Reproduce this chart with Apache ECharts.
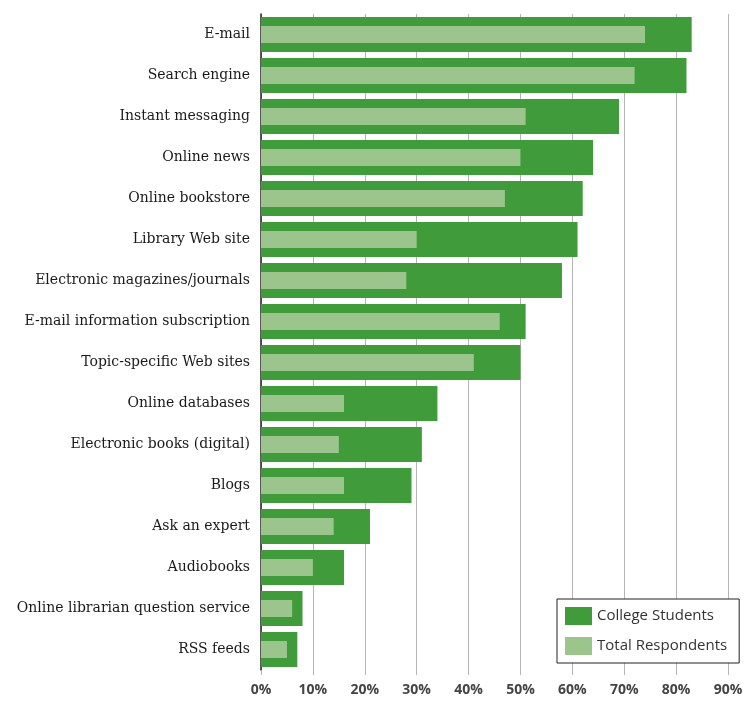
<!DOCTYPE html>
<html>
<head>
<meta charset="utf-8">
<script src="https://cdn.jsdelivr.net/npm/echarts@6/dist/echarts.min.js"></script>
<style>html,body{margin:0;padding:0;background:#fff;}#c{width:749px;height:701px;}</style>
</head>
<body>
<div id="c"></div>
<script>
var categories = ["E-mail","Search engine","Instant messaging","Online news","Online bookstore","Library Web site","Electronic magazines/journals","E-mail information subscription","Topic-specific Web sites","Online databases","Electronic books (digital)","Blogs","Ask an expert","Audiobooks","Online librarian question service","RSS feeds"];
var collegeStudents = [83,82,69,64,62,61,58,51,50,34,31,29,21,16,8,7];
var totalRespondents = [74,72,51,50,47,30,28,46,41,16,15,16,14,10,6,5];
var xTicks = [0,10,20,30,40,50,60,70,80,90];

var chart = echarts.init(document.getElementById('c'));
chart.setOption({
  animation: false,
  backgroundColor: '#fff',
  grid: {left: 261, right: 21, top: 14, bottom: 31},
  legend: {
    orient: 'vertical', left: 557, top: 599,
    padding: [8, 12, 8, 8], itemGap: 12, itemWidth: 27, itemHeight: 18,
    icon: 'rect',
    backgroundColor: '#fff', borderColor: '#222', borderWidth: 1,
    textStyle: {fontFamily: 'Open Sans', fontSize: 15, color: '#333'},
    data: ['College Students', 'Total Respondents']
  },
  xAxis: {
    type: 'value', min: xTicks[0], max: xTicks[xTicks.length-1], interval: 10,
    axisLine: {show: false},
    axisTick: {show: true, length: 5, lineStyle: {color: '#b5b5b5'}},
    splitLine: {show: true, lineStyle: {color: '#b5b5b5', width: 1}},
    axisLabel: {formatter: '{value}%', margin: 13, fontFamily: 'Open Sans', fontWeight: 'bold', fontSize: 14, color: '#444'}
  },
  yAxis: [{
    type: 'category', data: categories, inverse: true,
    axisLine: {show: true, lineStyle: {color: '#222', width: 1.5}},
    axisTick: {show: false},
    axisLabel: {margin: 11, fontFamily: 'DejaVu Serif', fontSize: 14, color: '#1a1a1a'}
  }, {
    type: 'category', data: categories, inverse: true, show: false
  }],
  series: [{
    name: 'College Students', type: 'bar', yAxisIndex: 0, data: collegeStudents,
    barWidth: 35, itemStyle: {color: '#409b3a'}
  }, {
    name: 'Total Respondents', type: 'bar', yAxisIndex: 1, data: totalRespondents,
    barWidth: 17, itemStyle: {color: '#9cc58d'}
  }]
});
</script>
</body>
</html>
